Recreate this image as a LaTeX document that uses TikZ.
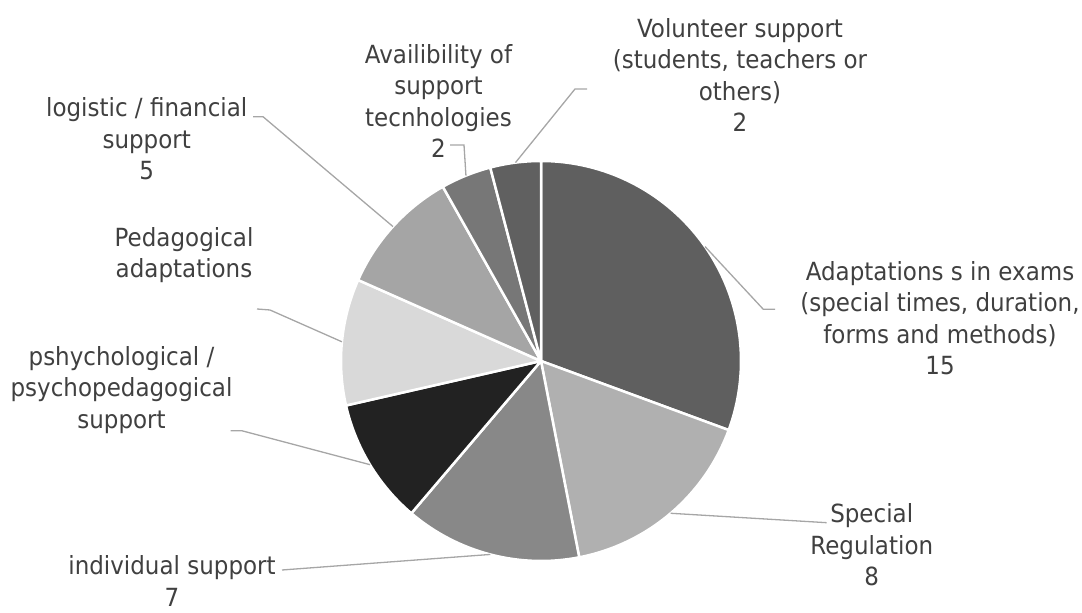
\documentclass[tikz,border=0pt]{standalone}
\usepackage{fontspec}
\setmainfont{DejaVu Sans}[FakeStretch=0.92]
\usetikzlibrary{calc}
\definecolor{txtgray}{HTML}{404040}
\definecolor{leadgray}{HTML}{A6A6A6}
\definecolor{examsgray}{HTML}{5F5F5F}
\definecolor{regulgray}{HTML}{B0B0B0}
\definecolor{indivgray}{HTML}{888888}
\definecolor{psychgray}{HTML}{222222}
\definecolor{pedaggray}{HTML}{D9D9D9}
\definecolor{logisgray}{HTML}{A5A5A5}
\definecolor{availgray}{HTML}{777777}
\definecolor{voluntgray}{HTML}{606060}
\def\pieslice[#1](#2:#3){\draw[#1] (ctr) -- ($(ctr)+(#2:200)$) arc (#2:#3:200) -- cycle;}
\tikzset{
  slice/.style={draw=white, line width=2.5pt, line join=round},
  leader/.style={draw=leadgray, line width=1.3pt},
  lbl/.style={text=txtgray, align=center, inner sep=0pt,
    font=\fontsize{25}{31.5}\selectfont},
}

\begin{document}
\begin{tikzpicture}[x=1pt, y=1pt]
		%%%%% START %%%%%
		\useasboundingbox (0, 0) rectangle (1082, 613);
		\coordinate (ctr) at (541, 252);
		
		% slices, clockwise from the top
		\pieslice[slice, fill=examsgray](90:-20.204)
		\pieslice[slice, fill=regulgray](-20.204:-78.980)
		\pieslice[slice, fill=indivgray](-78.980:-130.408)
		\pieslice[slice, fill=psychgray](-130.408:-167.143)
		\pieslice[slice, fill=pedaggray](-167.143:-203.878)
		\pieslice[slice, fill=logisgray](-203.878:-240.612)
		\pieslice[slice, fill=availgray](-240.612:-255.306)
		\pieslice[slice, fill=voluntgray](-255.306:-270)
		
		% labels
		\node[lbl] (exams) at (940, 295) {Adaptations s in exams\\(special times, duration,\\forms and methods)\\15};
		\node[lbl] (regul) at (871.7, 68) {Special\\Regulation\\8};
		\node[lbl] (indiv) at (172, 32) {individual support\\7};
		\node[lbl] (psych) at (121.5, 223) {pshychological /\\psychopedagogical\\support};
		\node[lbl] (pedag) at (184, 358) {Pedagogical\\adaptations};
		\node[lbl] (logis) at (146.7, 474) {logistic / financial\\support\\5};
		\node[lbl] (avail) at (438.5, 512) {Availibility of\\support\\tecnhologies\\2};
		\node[lbl] (volunt) at (740, 538) {Volunteer support\\(students, teachers or\\others)\\2};
		
		% leader lines
		\coordinate (examsP) at ($(ctr)+(34.898:200)$);
		\coordinate (regulP) at ($(ctr)+(-49.592:200)$);
		\coordinate (indivP) at ($(ctr)+(-104.694:200)$);
		\coordinate (psychP) at ($(ctr)+(-148.776:200)$);
		\coordinate (pedagP) at ($(ctr)+(174.49:200)$);
		\coordinate (logisP) at ($(ctr)+(137.755:200)$);
		\coordinate (availP) at ($(ctr)+(112.04:200)$);
		\coordinate (voluntP) at ($(ctr)+(97.347:200)$);
		
		\draw[leader] (examsP) -- (763.3, 303.7) -- (775, 303.7);
		\draw[leader] (regulP) -- (826.7, 90.3);
		\draw[leader] (indivP) -- (282, 43);
		\draw[leader] (psychP) -- (241.7, 182.3) -- (230.7, 182.3);
		\draw[leader] (pedagP) -- (270, 303) -- (257, 304);
		\draw[leader] (logisP) -- (263, 496.3) -- (253, 496.3);
		\draw[leader] (availP) -- (464, 468) -- (450, 468);
		\draw[leader] (voluntP) -- (575, 524) -- (587, 524);
		
		%%%%% END %%%%%
	\end{tikzpicture}
\end{document}
